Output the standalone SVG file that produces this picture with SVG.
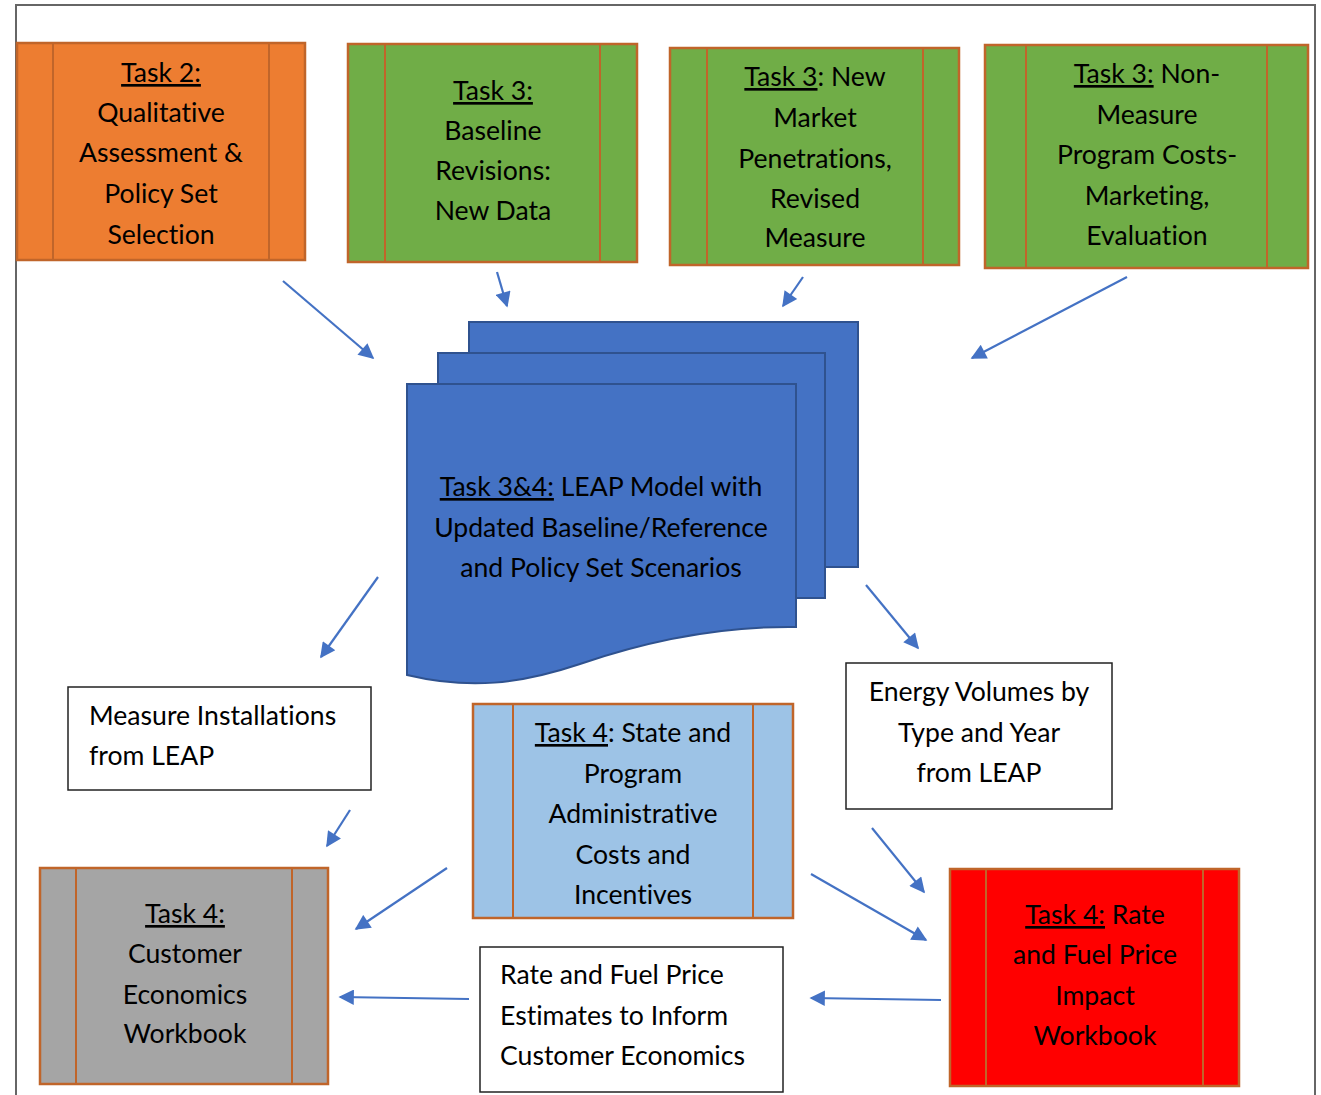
<svg xmlns="http://www.w3.org/2000/svg" width="1321" height="1095" viewBox="0 0 1321 1095">
<defs>
<style>
text{font-family:Lato,"Open Sans","Liberation Sans",sans-serif;font-size:26.6px;fill:#000;font-variant-ligatures:none;}
.c{text-anchor:middle;}
.u{text-decoration:underline;}
.pb{stroke:#C0652A;stroke-width:2.5;}
.pl{stroke:#C0652A;stroke-width:2;}
.wb{fill:#fff;stroke:#222;stroke-width:1.5;}
.doc{fill:#4472C4;stroke:#2F528F;stroke-width:2;}
.cn line{stroke:#4472C4;stroke-width:2.2;marker-end:url(#ah);}
</style>
<marker id="ah" viewBox="0 0 10 10" refX="9" refY="5" markerWidth="8" markerHeight="7" orient="auto" markerUnits="strokeWidth">
<path d="M0,0 L10,5 L0,10 Z" fill="#4472C4"/>
</marker>
</defs>
<rect width="1321" height="1095" fill="#fff"/>
<path d="M16,1095 V5 H1315 V1095" fill="none" stroke="#666" stroke-width="2"/>

<g id="task2">
<rect class="pb" x="17" y="43" width="288" height="217" fill="#ED7D31"/>
<line class="pl" x1="53" y1="43" x2="53" y2="260"/><line class="pl" x1="269" y1="43" x2="269" y2="260"/>
<text class="c" x="161"><tspan class="u" x="161" y="82">Task 2:</tspan><tspan x="161" y="122">Qualitative</tspan><tspan x="161" y="162">Assessment &amp;</tspan><tspan x="161" y="203">Policy Set</tspan><tspan x="161" y="244">Selection</tspan></text>
</g>

<g id="task3-baseline">
<rect class="pb" x="348" y="44" width="289" height="218" fill="#70AD47"/>
<line class="pl" x1="385" y1="44" x2="385" y2="262"/><line class="pl" x1="600" y1="44" x2="600" y2="262"/>
<text class="c" x="493"><tspan class="u" x="493" y="100">Task 3:</tspan><tspan x="493" y="140">Baseline</tspan><tspan x="493" y="180">Revisions:</tspan><tspan x="493" y="220">New Data</tspan></text>
</g>

<g id="task3-market">
<rect class="pb" x="670" y="48" width="289" height="217" fill="#70AD47"/>
<line class="pl" x1="707" y1="48" x2="707" y2="265"/><line class="pl" x1="923" y1="48" x2="923" y2="265"/>
<text class="c" x="815"><tspan x="815" y="86"><tspan class="u">Task 3</tspan>: New</tspan><tspan x="815" y="127">Market</tspan><tspan x="815" y="168">Penetrations,</tspan><tspan x="815" y="208">Revised</tspan><tspan x="815" y="247">Measure</tspan></text>
</g>

<g id="task3-nonmeasure">
<rect class="pb" x="985" y="45" width="323" height="223" fill="#70AD47"/>
<line class="pl" x1="1026" y1="45" x2="1026" y2="268"/><line class="pl" x1="1267" y1="45" x2="1267" y2="268"/>
<text class="c" x="1147"><tspan x="1147" y="83"><tspan class="u">Task 3:</tspan> Non-</tspan><tspan x="1147" y="124">Measure</tspan><tspan x="1147" y="164">Program Costs-</tspan><tspan x="1147" y="205">Marketing,</tspan><tspan x="1147" y="245">Evaluation</tspan></text>
</g>

<g id="leap-model">
<rect class="doc" x="469" y="322" width="389" height="245"/>
<rect class="doc" x="438" y="353" width="387" height="245"/>
<path class="doc" d="M407,384 H796 V627 C720,626 650,640 580,664 C520,684 470,690 407,675 Z"/>
<text class="c" x="601"><tspan x="601" y="496"><tspan class="u">Task 3&amp;4:</tspan> LEAP Model with</tspan><tspan x="601" y="537">Updated Baseline/Reference</tspan><tspan x="601" y="577">and Policy Set Scenarios</tspan></text>
</g>

<g id="measure-installations">
<rect class="wb" x="68" y="687" width="303" height="103"/>
<text x="89"><tspan x="89" y="725">Measure Installations</tspan><tspan x="89" y="765">from LEAP</tspan></text>
</g>

<g id="energy-volumes">
<rect class="wb" x="846" y="663" width="266" height="146"/>
<text class="c" x="979"><tspan x="979" y="701">Energy Volumes by</tspan><tspan x="979" y="742">Type and Year</tspan><tspan x="979" y="782">from LEAP</tspan></text>
</g>

<g id="task4-admin">
<rect class="pb" x="473" y="704" width="320" height="214" fill="#9DC3E6"/>
<line class="pl" x1="513" y1="704" x2="513" y2="918"/><line class="pl" x1="753" y1="704" x2="753" y2="918"/>
<text class="c" x="633"><tspan x="633" y="742"><tspan class="u">Task 4</tspan>: State and</tspan><tspan x="633" y="783">Program</tspan><tspan x="633" y="823">Administrative</tspan><tspan x="633" y="864">Costs and</tspan><tspan x="633" y="904">Incentives</tspan></text>
</g>

<g id="task4-customer">
<rect class="pb" x="40" y="868" width="288" height="216" fill="#A5A5A5"/>
<line class="pl" x1="76" y1="868" x2="76" y2="1084"/><line class="pl" x1="292" y1="868" x2="292" y2="1084"/>
<text class="c" x="185"><tspan class="u" x="185" y="923">Task 4:</tspan><tspan x="185" y="963">Customer</tspan><tspan x="185" y="1004">Economics</tspan><tspan x="185" y="1043">Workbook</tspan></text>
</g>

<g id="rate-estimates">
<rect class="wb" x="480" y="947" width="303" height="145"/>
<text x="500"><tspan x="500" y="984">Rate and Fuel Price</tspan><tspan x="500" y="1025">Estimates to Inform</tspan><tspan x="500" y="1065">Customer Economics</tspan></text>
</g>

<g id="task4-rate">
<rect class="pb" x="950" y="869" width="289" height="217" fill="#FF0000"/>
<line class="pl" x1="986" y1="869" x2="986" y2="1086"/><line class="pl" x1="1203" y1="869" x2="1203" y2="1086"/>
<text class="c" x="1095"><tspan x="1095" y="924"><tspan class="u">Task 4:</tspan> Rate</tspan><tspan x="1095" y="964">and Fuel Price</tspan><tspan x="1095" y="1005">Impact</tspan><tspan x="1095" y="1045">Workbook</tspan></text>
</g>

<g id="connectors" class="cn">
<line x1="283" y1="281" x2="373" y2="358"/>
<line x1="497" y1="272" x2="507" y2="306"/>
<line x1="803" y1="277" x2="783" y2="306"/>
<line x1="1127" y1="277" x2="972" y2="358"/>
<line x1="378" y1="577" x2="321" y2="657"/>
<line x1="866" y1="585" x2="918" y2="648"/>
<line x1="350" y1="810" x2="327" y2="846"/>
<line x1="447" y1="868" x2="356" y2="929"/>
<line x1="872" y1="828" x2="924" y2="892"/>
<line x1="811" y1="874" x2="926" y2="940"/>
<line x1="469" y1="999" x2="340" y2="997"/>
<line x1="941" y1="1000" x2="811" y2="998"/>
</g>
</svg>
